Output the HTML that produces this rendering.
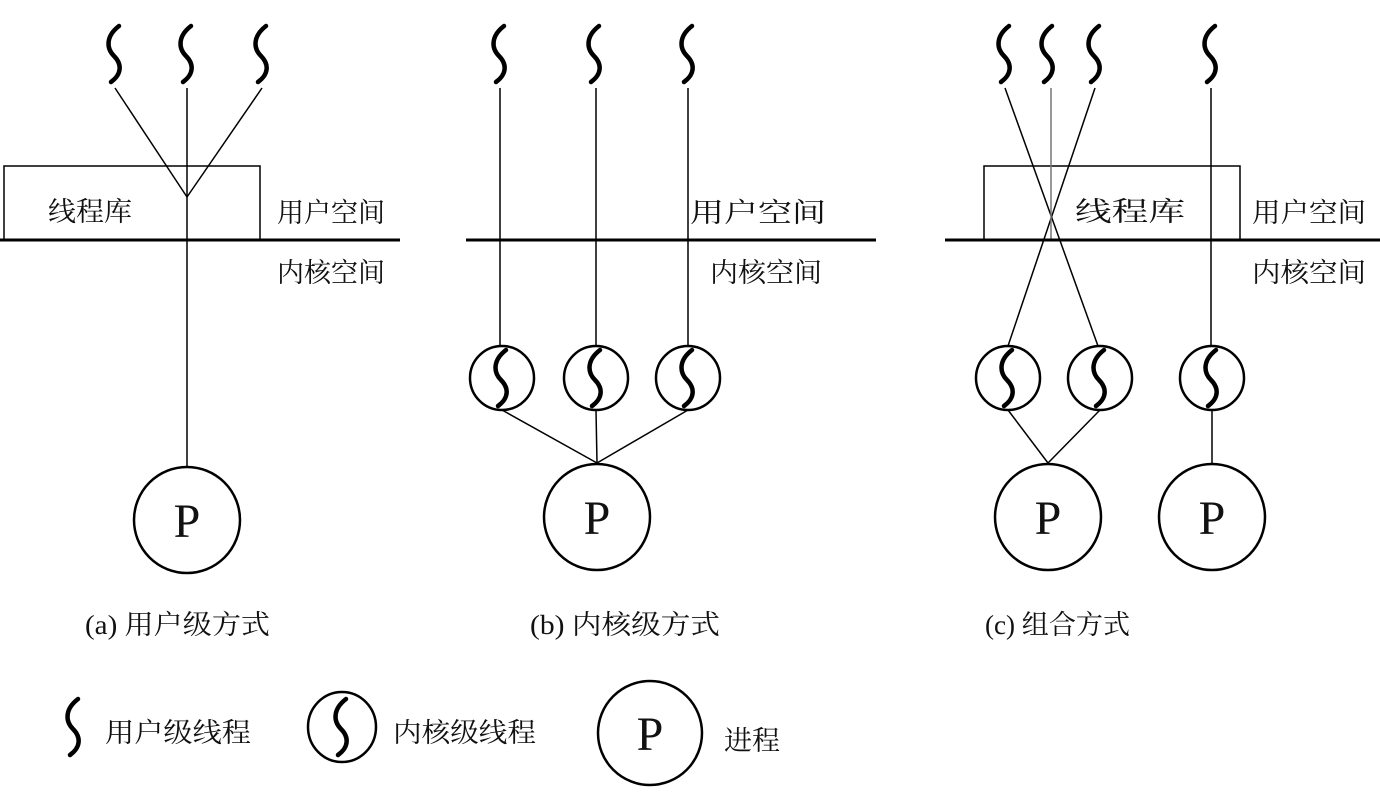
<!DOCTYPE html>
<html><head><meta charset="utf-8"><style>
html,body{margin:0;padding:0;background:#fff;}
svg{display:block;}
text{font-family:"Liberation Serif","Noto Serif CJK SC","Noto Sans CJK SC",serif;fill:#111;}
</style></head><body>
<svg width="1380" height="792" viewBox="0 0 1380 792" xmlns="http://www.w3.org/2000/svg">
<defs>
<path id="sq" d="M4,-28 C-9,-18 -9,-6 -1,2 C7,10 7,20 -4,28" fill="none" stroke="#000" stroke-width="4.5" stroke-linecap="round"/>
</defs>
<g stroke="#000" fill="none">
<!-- panel a -->
<use href="#sq" x="115" y="54"/><use href="#sq" x="187" y="54"/><use href="#sq" x="262" y="54"/>
<line x1="115" y1="88" x2="187" y2="197" stroke-width="1.5"/>
<line x1="262" y1="88" x2="187" y2="197" stroke-width="1.5"/>
<line x1="187" y1="88" x2="187" y2="466" stroke-width="1.5"/>
<rect x="4" y="166" width="256" height="74" stroke-width="1.5"/>
<line x1="0" y1="240" x2="400" y2="240" stroke-width="3"/>
<circle cx="187" cy="520" r="53" stroke-width="2.5"/>
<!-- panel b -->
<use href="#sq" x="500" y="54"/><use href="#sq" x="595" y="54"/><use href="#sq" x="688" y="54"/>
<line x1="500" y1="88" x2="500" y2="346" stroke-width="1.5"/>
<line x1="596" y1="88" x2="596" y2="346" stroke-width="1.5"/>
<line x1="688" y1="88" x2="688" y2="346" stroke-width="1.5"/>
<line x1="466" y1="240" x2="876" y2="240" stroke-width="3"/>
<circle cx="502" cy="378" r="32" stroke-width="2.5"/>
<circle cx="596" cy="378" r="32" stroke-width="2.5"/>
<circle cx="688" cy="378" r="32" stroke-width="2.5"/>
<use href="#sq" x="502" y="378"/><use href="#sq" x="596" y="378"/><use href="#sq" x="688" y="378"/>
<line x1="502" y1="410" x2="597" y2="463" stroke-width="1.5"/>
<line x1="596" y1="410" x2="597" y2="463" stroke-width="1.5"/>
<line x1="688" y1="410" x2="597" y2="463" stroke-width="1.5"/>
<circle cx="597" cy="517" r="53" stroke-width="2.5"/>
<!-- panel c -->
<use href="#sq" x="1005" y="54"/><use href="#sq" x="1048" y="54"/><use href="#sq" x="1095" y="54"/><use href="#sq" x="1211" y="54"/>
<rect x="984" y="166" width="256" height="74" stroke-width="1.5"/>
<line x1="1005" y1="88" x2="1098" y2="346" stroke-width="1.5"/>
<line x1="1095" y1="88" x2="1008" y2="346" stroke-width="1.5"/>
<line x1="1051" y1="88" x2="1051" y2="240" stroke-width="1.5" stroke="#777"/>
<line x1="1211" y1="88" x2="1211" y2="346" stroke-width="1.5"/>
<line x1="945" y1="240" x2="1380" y2="240" stroke-width="3"/>
<circle cx="1008" cy="378" r="32" stroke-width="2.5"/>
<circle cx="1100" cy="378" r="32" stroke-width="2.5"/>
<circle cx="1212" cy="378" r="32" stroke-width="2.5"/>
<use href="#sq" x="1008" y="378"/><use href="#sq" x="1100" y="378"/><use href="#sq" x="1212" y="378"/>
<line x1="1008" y1="410" x2="1048" y2="463" stroke-width="1.5"/>
<line x1="1100" y1="410" x2="1048" y2="463" stroke-width="1.5"/>
<line x1="1212" y1="410" x2="1212" y2="463" stroke-width="1.5"/>
<circle cx="1048" cy="517" r="53" stroke-width="2.5"/>
<circle cx="1212" cy="517" r="53" stroke-width="2.5"/>
<!-- legend -->
<use href="#sq" x="74" y="727"/>
<ellipse cx="342" cy="727" rx="34" ry="35" stroke-width="2.5"/>
<use href="#sq" x="342" y="727"/>
<circle cx="650" cy="733" r="52" stroke-width="2.5"/>
</g>
<g font-size="27">
<text x="48" y="221" textLength="84" lengthAdjust="spacingAndGlyphs">线程库</text>
<text x="277" y="222" textLength="108" lengthAdjust="spacingAndGlyphs">用户空间</text>
<text x="277" y="282" textLength="108" lengthAdjust="spacingAndGlyphs">内核空间</text>
<text x="690" y="222" textLength="136" lengthAdjust="spacingAndGlyphs">用户空间</text>
<text x="710" y="282" textLength="112" lengthAdjust="spacingAndGlyphs">内核空间</text>
<text x="1075" y="221" textLength="110" lengthAdjust="spacingAndGlyphs">线程库</text>
<text x="1252" y="222" textLength="114" lengthAdjust="spacingAndGlyphs">用户空间</text>
<text x="1252" y="282" textLength="114" lengthAdjust="spacingAndGlyphs">内核空间</text>
<text x="85" y="634" textLength="185" lengthAdjust="spacingAndGlyphs">(a) 用户级方式</text>
<text x="530" y="634" textLength="190" lengthAdjust="spacingAndGlyphs">(b) 内核级方式</text>
<text x="985" y="634" textLength="145" lengthAdjust="spacingAndGlyphs">(c) 组合方式</text>
<text x="105" y="742" textLength="146" lengthAdjust="spacingAndGlyphs">用户级线程</text>
<text x="393" y="742" textLength="143" lengthAdjust="spacingAndGlyphs">内核级线程</text>
<text x="724" y="750" textLength="56" lengthAdjust="spacingAndGlyphs">进程</text>
</g>
<g font-size="48" text-anchor="middle">
<text x="187" y="537">P</text>
<text x="597" y="534">P</text>
<text x="1048" y="534">P</text>
<text x="1212" y="534">P</text>
<text x="650" y="750">P</text>
</g>
</svg>
</body></html>
